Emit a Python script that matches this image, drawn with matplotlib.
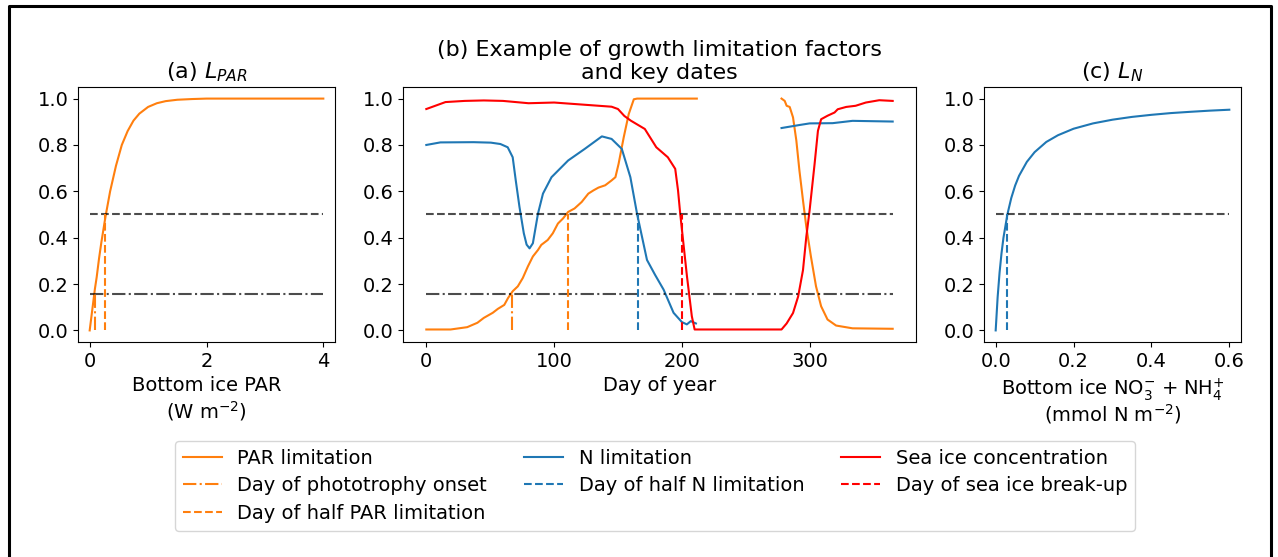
import numpy as np
import matplotlib.pyplot as plt
from matplotlib.lines import Line2D

nan = np.nan

# (a) L_PAR vs bottom ice PAR
par_x = [0, 0.03, 0.06, 0.09, 0.12, 0.16, 0.2, 0.27, 0.35, 0.45, 0.55, 0.65, 0.75,
         0.85, 1.0, 1.15, 1.3, 1.5, 1.75, 2.0, 2.5, 3.0, 3.5, 4.0]
par_y = [0, 0.06, 0.12, 0.18, 0.23, 0.31, 0.38, 0.49, 0.6, 0.71, 0.8, 0.86, 0.905,
         0.935, 0.964, 0.98, 0.989, 0.995, 0.998, 1.0, 1.0, 1.0, 1.0, 1.0]
par_onset = 0.09
par_half = 0.27

# (b) time series, day of year
doy_par = [0, 19, 32, 40, 45, 52, 56, 61, 64, 67.6, 71.6, 75.5, 79.5, 83.4, 87.4, 90, 95, 99,
           103, 107, 111, 116, 121.6, 126.8, 130.8, 134.7, 140, 145, 148, 150.5, 154.5, 158.4,
           162.4, 165, 211.7, nan,
           278, 280.5, 282, 284.4, 287, 289.6, 292, 294.8, 297.4, 301, 305, 309, 314, 320.7,
           333.6, 365]
lim_par = [0.004, 0.004, 0.014, 0.033, 0.054, 0.076, 0.093, 0.11, 0.14, 0.169, 0.19, 0.226,
           0.276, 0.319, 0.347, 0.369, 0.39, 0.419, 0.461, 0.483, 0.511, 0.526, 0.554, 0.59,
           0.604, 0.616, 0.626, 0.647, 0.661, 0.719, 0.833, 0.933, 0.997, 1.0, 1.0, nan,
           1.0, 0.99, 0.969, 0.964, 0.919, 0.819, 0.69, 0.561, 0.447, 0.319, 0.19, 0.104,
           0.047, 0.021, 0.009, 0.007]

doy_n = [0, 11, 37, 50.5, 58, 63.7, 67.6, 70, 72.9, 76.3, 78.5, 80.8, 83.4, 87.4, 91.3, 98,
         111, 124, 137.4, 145, 153, 159.7, 164.9, 168.8, 172.7, 179, 185.7, 193.5, 200, 203.9,
         207, 211, nan,
         278, 292, 300, 318, 333.6, 365]
lim_n = [0.8, 0.811, 0.812, 0.81, 0.804, 0.79, 0.747, 0.647, 0.533, 0.419, 0.37, 0.354,
         0.376, 0.504, 0.59, 0.661, 0.733, 0.783, 0.837, 0.826, 0.783, 0.661, 0.504, 0.404,
         0.304, 0.24, 0.176, 0.076, 0.036, 0.026, 0.04, 0.03, nan,
         0.873, 0.886, 0.893, 0.894, 0.904, 0.901]

doy_ice = [0, 5, 15, 30, 45, 60, 80, 100, 120, 145, 150, 155, 160, 171, 180, 189, 194.8, 197,
           198.7, 204, 207.8, 210, 278, 282, 287, 291, 294.8, 297.4, 300, 303.9, 306.5, 309,
           314, 319.5, 322, 328.6, 336, 344, 354.5, 365]
sea_ice = [0.955, 0.965, 0.985, 0.99, 0.992, 0.99, 0.98, 0.983, 0.975, 0.965, 0.955, 0.925,
           0.905, 0.869, 0.79, 0.747, 0.697, 0.604, 0.504, 0.233, 0.061, 0.004, 0.004, 0.03,
           0.075, 0.146, 0.26, 0.404, 0.519, 0.719, 0.861, 0.911, 0.926, 0.94, 0.954, 0.964,
           0.969, 0.983, 0.993, 0.99]

day_onset = 67
day_half_par = 111
day_half_n = 166
day_breakup = 200

# (c) L_N vs bottom ice nutrients
nut_x = [0, 0.005, 0.01, 0.015, 0.02, 0.03, 0.04, 0.05, 0.06, 0.08, 0.1, 0.13, 0.16, 0.2,
         0.25, 0.3, 0.35, 0.4, 0.45, 0.5, 0.55, 0.6]
nut_y = [0, 0.143, 0.25, 0.333, 0.4, 0.5, 0.571, 0.625, 0.667, 0.727, 0.769, 0.813, 0.842,
         0.87, 0.893, 0.909, 0.921, 0.93, 0.9375, 0.943, 0.948, 0.952]
n_half = 0.028

thr_half = 0.5
thr_onset = 0.155

c_par = 'tab:orange'
c_n = 'tab:blue'
c_ice = 'red'

fig = plt.figure(figsize=(12.78, 5.57), dpi=100)
ax_a = fig.add_axes([78/1278, 215/557, 257/1278, 255/557])
ax_b = fig.add_axes([403/1278, 215/557, 513/1278, 255/557])
ax_c = fig.add_axes([984/1278, 215/557, 257/1278, 255/557])

# panel a
ax_a.plot(par_x, par_y, color=c_par)
ax_a.hlines(thr_half, 0, 4, color='k', alpha=0.7, linestyle='--')
ax_a.hlines(thr_onset, 0, 4, color='k', alpha=0.7, linestyle='-.')
ax_a.vlines(par_onset, 0, thr_onset, color=c_par, linestyle='-.')
ax_a.vlines(par_half, 0, thr_half, color=c_par, linestyle='--')
ax_a.set_title('(a) $L_{PAR}$', fontsize=16)
ax_a.set_xlabel('Bottom ice PAR\n(W m$^{-2}$)', fontsize=14)

# panel b
ax_b.plot(doy_par, lim_par, color=c_par, label='PAR limitation')
ax_b.plot(doy_n, lim_n, color=c_n, label='N limitation')
ax_b.plot(doy_ice, sea_ice, color=c_ice, label='Sea ice concentration')
ax_b.hlines(thr_half, 0, 365, color='k', alpha=0.7, linestyle='--')
ax_b.hlines(thr_onset, 0, 365, color='k', alpha=0.7, linestyle='-.')
ax_b.vlines(day_onset, 0, thr_onset, color=c_par, linestyle='-.', label='Day of phototrophy onset')
ax_b.vlines(day_half_par, 0, thr_half, color=c_par, linestyle='--', label='Day of half PAR limitation')
ax_b.vlines(day_half_n, 0, thr_half, color=c_n, linestyle='--', label='Day of half N limitation')
ax_b.vlines(day_breakup, 0, thr_half, color=c_ice, linestyle='--', label='Day of sea ice break-up')
ax_b.set_title('(b) Example of growth limitation factors\nand key dates', fontsize=16,
               linespacing=1.15)
ax_b.set_xlabel('Day of year', fontsize=14)

# panel c
ax_c.plot(nut_x, nut_y, color=c_n)
ax_c.hlines(thr_half, 0, 0.6, color='k', alpha=0.7, linestyle='--')
ax_c.vlines(n_half, 0, thr_half, color=c_n, linestyle='--')
ax_c.set_title('(c) $L_N$', fontsize=16)
ax_c.set_xlabel('Bottom ice NO$_3^{-}$ + NH$_4^{+}$\n(mmol N m$^{-2}$)', fontsize=14,
                linespacing=0.95)

for ax in (ax_a, ax_b, ax_c):
    ax.set_ylim(-0.05, 1.05)
    ax.set_yticks([0, 0.2, 0.4, 0.6, 0.8, 1.0])
    ax.tick_params(labelsize=14)

ax_a.set_xlim(-0.2, 4.2)
ax_a.set_xticks([0, 2, 4])
ax_b.set_xlim(-18.25, 383.25)
ax_b.set_xticks([0, 100, 200, 300])
ax_c.set_xlim(-0.03, 0.63)
ax_c.set_xticks([0, 0.2, 0.4, 0.6])

# legend, column-major order
h, l = ax_b.get_legend_handles_labels()
order = ['PAR limitation', 'Day of phototrophy onset', 'Day of half PAR limitation',
         'N limitation', 'Day of half N limitation',
         'Sea ice concentration', 'Day of sea ice break-up']
hd = dict(zip(l, h))
fig.legend([hd[k] for k in order], order, ncol=3, fontsize=14, labelspacing=0.45,
           loc='upper center', bbox_to_anchor=(655/1278, 126/557), columnspacing=1.9)

# outer frame (no bottom edge)
fx = [8.5/1278, 8.5/1278, 1271/1278, 1271/1278]
fy = [0, 1 - 5.5/557, 1 - 5.5/557, 0]
fig.add_artist(Line2D(fx, fy, transform=fig.transFigure, color='k', linewidth=2.2))

plt.savefig('out.png', dpi=100)
